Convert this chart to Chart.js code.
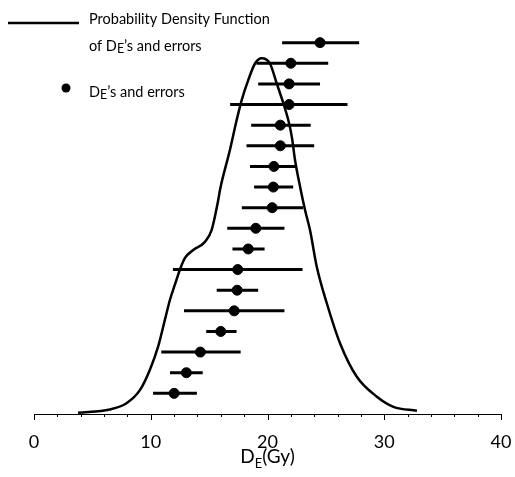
<!DOCTYPE html>
<html>
<head>
<meta charset="utf-8">
<script src="https://cdn.jsdelivr.net/npm/chart.js@4/dist/chart.umd.min.js"></script>
<style>
  html, body { margin: 0; padding: 0; background: #fff; overflow: hidden; }
  #c { display: block; }
</style>
</head>
<body>
<canvas id="c" width="515" height="477" style="width:515px;height:477px"></canvas>
<script>
// ---- Data ----
// Equivalent doses (DE, Gy), top row first
const deValues = [24.5, 22.0, 21.85, 21.85, 21.1, 21.1, 20.55, 20.5, 20.4, 19.0, 18.35, 17.45, 17.4, 17.15, 16.0, 14.25, 13.05, 12.0];
const deLow    = [21.25, 19.05, 19.2, 16.8, 18.6, 18.2, 18.5, 18.85, 17.8, 16.55, 17.0, 11.9, 15.65, 12.85, 14.75, 10.9, 11.65, 10.2];
const deHigh   = [27.85, 25.2, 24.5, 26.85, 23.7, 24.0, 22.5, 22.2, 23.05, 21.45, 19.75, 23.0, 19.2, 21.45, 17.35, 17.7, 14.45, 13.95];

// Probability density function of DE's and errors
const pdfX = [3.77, 6.49, 7.92, 9.07, 9.92, 10.63, 11.21, 11.64, 12.06, 12.49, 12.92, 13.64, 14.64, 15.21, 15.78, 15.93, 16.78, 17.36, 17.79, 18.35, 18.93, 19.5, 20.21, 20.79, 21.36, 21.78, 22.08, 22.36, 22.79, 23.22, 23.64, 24.22, 25.08, 26.22, 27.65, 29.37, 30.79, 32.8];
const pdfY = [0.0004, 0.0014, 0.0033, 0.0073, 0.0135, 0.0206, 0.0288, 0.0349, 0.0395, 0.0441, 0.0477, 0.0502, 0.0527, 0.0563, 0.0655, 0.0686, 0.0808, 0.0900, 0.0961, 0.1022, 0.1073, 0.1089, 0.1073, 0.1012, 0.0951, 0.0900, 0.0849, 0.0777, 0.0696, 0.0624, 0.0563, 0.0451, 0.0339, 0.0216, 0.0114, 0.0053, 0.0022, 0.0010];

const xTickLabels = [0, 10, 20, 30, 40];
const xTitleMain = 'D';
const xTitleSub = 'E';
const xTitleRest = '(Gy)';
const legendLine1 = 'Probability Density Function';
const legendLine2 = ['of D', 'E', '\u2019s and errors'];
const legendDots  = ['D', 'E', '\u2019s and errors'];

// ---- Build datasets ----
const nRows = deValues.length;
const rowPos = deValues.map((v, i) => nRows - i);
const pointData = deValues.map((v, i) => ({ x: v, y: rowPos[i] }));
const barData = [];
deValues.forEach((v, i) => {
  barData.push({ x: deLow[i], y: rowPos[i] });
  barData.push({ x: deHigh[i], y: rowPos[i] });
  barData.push({ x: (deLow[i] + deHigh[i]) / 2, y: null });
});
const pdfData = pdfX.map((x, i) => ({ x: x, y: pdfY[i] }));

const FONT = 'Lato, "Liberation Sans", sans-serif';

function drawParts(ctx, x, y, parts, size, subSize, subDy) {
  ctx.textBaseline = 'alphabetic';
  ctx.textAlign = 'left';
  let cx = x;
  parts.forEach((p, i) => {
    const isSub = (i === 1);
    ctx.font = (isSub ? subSize : size) + 'px ' + FONT;
    ctx.fillText(p, cx, y + (isSub ? subDy : 0));
    cx += ctx.measureText(p).width;
  });
  return cx - x;
}
function measureParts(ctx, parts, size, subSize) {
  let w = 0;
  parts.forEach((p, i) => {
    ctx.font = (i === 1 ? subSize : size) + 'px ' + FONT;
    w += ctx.measureText(p).width;
  });
  return w;
}

const decorPlugin = {
  id: 'decor',
  afterDraw(chart) {
    const ctx = chart.ctx;
    const xs = chart.scales.x;
    const axisY = xs.top;
    ctx.save();
    ctx.strokeStyle = '#000';
    ctx.lineWidth = 1;
    // tick marks: minor every 2, major every 10
    for (let v = xs.min; v <= xs.max + 1e-9; v += 2) {
      const px = Math.round(xs.getPixelForValue(v)) + 0.5;
      const major = (Math.abs(v % 10) < 1e-9);
      ctx.beginPath();
      ctx.moveTo(px, axisY);
      ctx.lineTo(px, axisY + (major ? 6 : 3));
      ctx.stroke();
    }
    // axis title D_E(Gy)
    ctx.fillStyle = '#000';
    const parts = [xTitleMain, xTitleSub, xTitleRest];
    const w = measureParts(ctx, parts, 19, 13);
    const cx = (xs.left + xs.right) / 2;
    drawParts(ctx, cx - w / 2, 463, parts, 19, 13, 5);

    // legend
    ctx.lineWidth = 2.5;
    ctx.beginPath();
    ctx.moveTo(8, 23);
    ctx.lineTo(79, 23);
    ctx.stroke();
    ctx.font = '14.5px ' + FONT;
    ctx.fillText(legendLine1, 89, 24);
    drawParts(ctx, 89, 51, legendLine2, 14.5, 12.5, 2);
    ctx.beginPath();
    ctx.arc(66, 88, 4.5, 0, Math.PI * 2);
    ctx.fill();
    drawParts(ctx, 89, 97, legendDots, 14.5, 12.5, 2);
    ctx.restore();
  }
};

new Chart(document.getElementById('c'), {
  type: 'scatter',
  data: {
    datasets: [
      {
        label: 'PDF',
        type: 'line',
        data: pdfData,
        yAxisID: 'yPdf',
        borderColor: '#000',
        borderWidth: 2.5,
        pointRadius: 0,
        cubicInterpolationMode: 'monotone',
        fill: false,
        order: 3
      },
      {
        label: 'errors',
        type: 'line',
        data: barData,
        yAxisID: 'yRows',
        borderColor: '#000',
        borderWidth: 3,
        pointRadius: 0,
        spanGaps: false,
        fill: false,
        order: 2
      },
      {
        label: 'DE',
        data: pointData,
        yAxisID: 'yRows',
        backgroundColor: '#000',
        borderColor: '#000',
        pointRadius: 5,
        pointHoverRadius: 5,
        order: 1
      }
    ]
  },
  options: {
    responsive: false,
    maintainAspectRatio: false,
    devicePixelRatio: 1,
    animation: false,
    events: [],
    layout: { padding: { left: 34, right: 14, top: 22, bottom: 0 } },
    plugins: { legend: { display: false }, tooltip: { enabled: false } },
    scales: {
      x: {
        type: 'linear',
        min: 0, max: 40,
        afterBuildTicks: (axis) => { axis.ticks = xTickLabels.map(v => ({ value: v })); },
        afterFit: (scale) => { scale.paddingLeft = 0; scale.paddingRight = 0; scale.height = 63; },
        grid: { display: false, drawTicks: false },
        border: { display: true, color: '#000', width: 1 },
        ticks: { color: '#000', padding: 17, font: { family: FONT, size: 18 }, maxRotation: 0, autoSkip: false }
      },
      yRows: { type: 'linear', display: false, min: 0, max: 19 },
      yPdf: { type: 'linear', display: false, min: 0, max: 0.12 }
    }
  },
  plugins: [decorPlugin]
});
</script>
</body>
</html>
